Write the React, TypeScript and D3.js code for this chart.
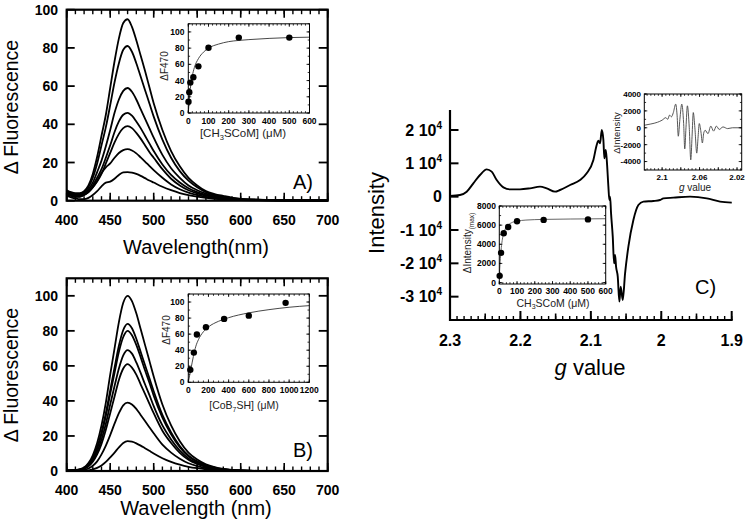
import React from "react";
import * as d3 from "d3";

// ---------------- data ----------------
const WAVELENGTHS = [400, 405, 410, 415, 420, 425, 430, 435, 440, 445, 450, 455, 460, 465, 470, 475, 480, 485, 490, 495, 500, 510, 520, 530, 540, 550, 560, 570, 580, 590, 600, 620, 650, 700];

const SPECTRA_A = [
  [5.5, 4.5, 4, 4, 5, 8, 14, 23, 34, 45, 59, 73, 85, 93, 95, 91, 84, 76, 68, 59.5, 51, 37, 26, 18, 12, 8, 5, 3.5, 2.5, 1.6, 1, 0.6, 0.3, 0.1],
  [5, 4, 3.5, 3.5, 4.5, 7, 12, 19.5, 29, 38.5, 50, 62, 72, 79, 81, 78, 72, 65, 58, 51, 44, 32, 22.5, 15.5, 10.5, 7, 4.5, 3, 2, 1.3, 0.9, 0.5, 0.3, 0.1],
  [4.5, 3.5, 3, 3, 4, 6, 9.5, 15, 21, 28.5, 37, 46, 53, 57.5, 59, 57, 53, 48, 43, 38, 33, 24, 17, 12, 8, 5.5, 3.7, 2.5, 1.7, 1.1, 0.7, 0.4, 0.2, 0.1],
  [4, 3, 2.5, 2.5, 3.5, 5, 8, 12, 16.5, 22.5, 29, 36, 41.5, 45, 46, 44.5, 41.5, 38, 34, 30, 26, 19, 13.5, 9.5, 6.5, 4.5, 3, 2, 1.4, 0.9, 0.6, 0.3, 0.2, 0.1],
  [3.5, 2.8, 2.2, 2.2, 3, 4.5, 7, 10, 14, 19.5, 25, 30.5, 35, 38, 39, 38, 35.5, 32.5, 29, 25.5, 22.5, 16.5, 11.5, 8, 5.5, 3.8, 2.6, 1.8, 1.2, 0.8, 0.5, 0.3, 0.1, 0],
  [3, 2.5, 2, 2, 3, 4.5, 7, 10.5, 14.5, 17.5, 19.5, 22.5, 25, 26.5, 27, 26.3, 24.8, 22.7, 20.5, 18.2, 16, 12, 8.5, 6, 4.2, 3, 2, 1.4, 1, 0.7, 0.5, 0.3, 0.1, 0],
  [2.5, 1.8, 1.2, 0.8, 0.8, 1.5, 3, 5, 7.5, 9.5, 10, 11.5, 13.5, 14.8, 15, 14.7, 14, 13, 11.8, 10.6, 9.5, 7.3, 5.5, 4, 2.9, 2.1, 1.5, 1, 0.7, 0.5, 0.3, 0.2, 0.1, 0],
];

const SPECTRA_B = [
  [0.3, 0.4, 0.6, 1, 2, 4.5, 9, 16, 26, 39, 55, 70, 85, 96, 100, 97, 90, 81, 72, 63, 54, 38, 26, 17, 10.5, 6.5, 3.8, 2.2, 1.2, 0.6, 0.3, 0.1, 0, 0],
  [0.3, 0.4, 0.5, 0.9, 1.7, 3.8, 7.5, 13.5, 22, 33, 46, 59, 71.5, 80.5, 84, 81.5, 75.5, 68, 60.5, 53, 45.5, 32, 22, 14.3, 8.8, 5.5, 3.2, 1.8, 1, 0.5, 0.3, 0.1, 0, 0],
  [0.3, 0.4, 0.5, 0.8, 1.6, 3.6, 7, 12.8, 21, 31.5, 44, 56, 68, 76.5, 80, 77.5, 72, 65, 57.5, 50.5, 43, 30.5, 21, 13.6, 8.4, 5.2, 3, 1.8, 1, 0.5, 0.2, 0.1, 0, 0],
  [0.2, 0.3, 0.4, 0.7, 1.4, 3, 6, 11, 18, 27, 38, 48.5, 58.5, 66, 69, 67, 62, 56, 49.5, 43.5, 37, 26, 18, 11.7, 7.2, 4.5, 2.6, 1.5, 0.8, 0.4, 0.2, 0.1, 0, 0],
  [0.2, 0.3, 0.4, 0.6, 1.2, 2.7, 5.3, 9.5, 15.5, 23.5, 33, 42.5, 52, 58.5, 61, 59, 55, 49.5, 44, 38.5, 33, 23, 16, 10.4, 6.4, 4, 2.3, 1.3, 0.7, 0.4, 0.2, 0.1, 0, 0],
  [0.1, 0.2, 0.2, 0.3, 0.6, 1.4, 3, 5.5, 9.5, 14.5, 20.5, 27, 33, 37.5, 39, 38, 35.5, 32, 28.5, 25, 21.5, 15, 10.5, 7, 4.4, 2.8, 1.7, 1, 0.6, 0.3, 0.2, 0.1, 0, 0],
  [0, 0, 0, 0.1, 0.2, 0.4, 0.9, 1.8, 3.2, 5.2, 7.8, 10.5, 13.5, 16, 17, 16.7, 15.8, 14.5, 13, 11.5, 10, 7.3, 5.2, 3.6, 2.4, 1.6, 1, 0.6, 0.3, 0.2, 0.1, 0, 0, 0],
];

const MAIN_X_TICKS = [400, 450, 500, 550, 600, 650, 700];
const MAIN_Y_TICKS = [0, 20, 40, 60, 80, 100];

const INSET_A_CONC = [1, 5, 10, 25, 50, 100, 250, 500];
const INSET_A_DF = [14, 25.5, 37.5, 44, 57.5, 80.5, 93, 93];
const FIT_A_CONC = [0, 5, 10, 20, 30, 50, 75, 100, 150, 200, 250, 300, 400, 500, 600];
const FIT_A_DF = [0, 17, 30, 46, 56, 67, 75, 80, 85, 88, 89.5, 90.5, 92, 93, 93.5];
const INSET_A_XTICKS = [0, 100, 200, 300, 400, 500, 600];

const INSET_B_CONC = [20, 55, 85, 175, 355, 600, 965];
const INSET_B_DF = [15.5, 37, 59.5, 68.5, 79, 83, 99];
const FIT_B_CONC = [0, 25, 50, 75, 100, 150, 200, 300, 400, 600, 800, 1000, 1200];
const FIT_B_DF = [0, 16, 32, 45, 53, 63, 69, 76, 80.5, 86.5, 90.5, 93.5, 95.5];
const INSET_B_XTICKS = [0, 200, 400, 600, 800, 1000, 1200];
const INSET_Y_TICKS = [0, 20, 40, 60, 80, 100];

const EPR_G = [2.3, 2.2858, 2.2763, 2.2669, 2.2574, 2.2479, 2.2408, 2.2337, 2.2242, 2.2148, 2.2006, 2.1864, 2.1722, 2.1627, 2.1509, 2.1438, 2.1295, 2.1153, 2.1059, 2.0964, 2.0917, 2.0893, 2.0869, 2.0845, 2.0822, 2.0808, 2.0789, 2.0774, 2.0751, 2.0737, 2.0727, 2.0713, 2.0689, 2.067, 2.0656, 2.0642, 2.0618, 2.0595, 2.0576, 2.0547, 2.0514, 2.0467, 2.0396, 2.0325, 2.0254, 2.0112, 2.0017, 1.997, 1.9828, 1.9591, 1.9354, 1.9165, 1.8999];
const EPR_INT = [200, 500, 1500, 4000, 6500, 8200, 7500, 5000, 2800, 2200, 2200, 2500, 3000, 2500, 1500, 2000, 3500, 5000, 7000, 11000, 15500, 16800, 16000, 20000, 17000, 11500, 14000, 11000, 3000, -1000, 0, -5000, -12000, -20000, -17500, -21000, -24000, -31500, -27000, -31000, -23000, -15000, -7000, -2500, -1500, -1300, -1000, -500, -300, 0, -500, -1500, -1800];
const C_X_TICKS = [2.3, 2.2, 2.1, 2.0, 1.9];
const C_X_LABELS = ["2.3", "2.2", "2.1", "2", "1.9"];
const C_Y_TICKS = [-30000, -20000, -10000, 0, 10000, 20000];

const DIFF_G = [2.119, 2.112, 2.105, 2.1, 2.096, 2.094, 2.092, 2.09, 2.088, 2.0855, 2.084, 2.0827, 2.081, 2.079, 2.077, 2.0758, 2.0745, 2.073, 2.071, 2.0694, 2.068, 2.0667, 2.065, 2.063, 2.0615, 2.0603, 2.0585, 2.057, 2.0555, 2.054, 2.051, 2.048, 2.045, 2.042, 2.039, 2.035, 2.03, 2.025, 2.02, 2.015];
const DIFF_INT = [300, 450, 650, 900, 1200, 1000, 1500, 1300, 1800, 2800, 1500, -1000, 1000, 2800, 500, -2500, 0, 2600, 0, -3800, -1000, 1800, 0, -3000, -1000, 500, -500, -1800, -600, -300, -700, 200, -400, 200, -200, 100, -100, 0, 0, 0];
const DIFF_X_TICKS = [2.1, 2.06, 2.02];
const DIFF_Y_TICKS = [-4000, -2000, 0, 2000, 4000];

const TITR_C_CONC = [2, 10, 25, 50, 100, 250, 500];
const TITR_C_INT = [700, 3100, 5150, 5800, 6400, 6550, 6600];
const FIT_C_CONC = [0, 5, 10, 20, 30, 50, 75, 100, 150, 250, 400, 600];
const FIT_C_INT = [600, 2200, 3400, 4800, 5450, 6000, 6300, 6420, 6530, 6600, 6640, 6670];
const TITR_C_XTICKS = [0, 100, 200, 300, 400, 500, 600];
const TITR_C_YTICKS = [0, 2000, 4000, 6000, 8000];

// ---------------- helpers ----------------
const FONT = "'Liberation Sans', Arial, Helvetica, sans-serif";
type Lin = d3.ScaleLinear<number, number>;

function tk(values: number[], scale: Lin, axis: "x" | "y", at: number, dir: number, len: number, sw: number, key: string) {
  return values.map((v, i) => {
    const p = scale(v);
    return axis === "x" ? (
      <line key={key + i} x1={p} x2={p} y1={at} y2={at + dir * len} stroke="#000" strokeWidth={sw} />
    ) : (
      <line key={key + i} y1={p} y2={p} x1={at} x2={at + dir * len} stroke="#000" strokeWidth={sw} />
    );
  });
}

function boxTicks(x: Lin, y: Lin, xMaj: number[], xMin: number[], yMaj: number[], yMin: number[], maj: number, min: number, sw: number, key: string) {
  const [L, R] = x.range();
  const [B, T] = y.range();
  return [
    ...tk(xMaj, x, "x", B, -1, maj, sw, key + "bM"),
    ...tk(xMin, x, "x", B, -1, min, sw, key + "bm"),
    ...tk(xMaj, x, "x", T, 1, maj, sw, key + "tM"),
    ...tk(xMin, x, "x", T, 1, min, sw, key + "tm"),
    ...tk(yMaj, y, "y", L, 1, maj, sw, key + "lM"),
    ...tk(yMin, y, "y", L, 1, min, sw, key + "lm"),
    ...tk(yMaj, y, "y", R, -1, maj, sw, key + "rM"),
    ...tk(yMin, y, "y", R, -1, min, sw, key + "rm"),
  ];
}

const mainX = d3.scaleLinear().domain([400, 700]).range([66.7, 327.7]);

function SpectraPanel(props: {
  y: Lin; curves: number[][]; xTitle: string; letter: string; letterY: number; yTitleY: number; xLabelY: number; xTitleY: number;
  children?: React.ReactNode;
}) {
  const { y, curves } = props;
  const [B, T] = y.range();
  const L = mainX.range()[0], R = mainX.range()[1];
  const line = d3.line<number>().x((_, i) => mainX(WAVELENGTHS[i])).y((v) => y(v)).curve(d3.curveMonotoneX);
  const minorX = d3.range(400, 700.01, 10);
  return (
    <g>
      {curves.map((c, i) => (
        <path key={i} d={line(c) || ""} fill="none" stroke="#000" strokeWidth={1.8} />
      ))}
      <rect x={L} y={T} width={R - L} height={B - T} fill="none" stroke="#000" strokeWidth={2.2} />
      {tk(MAIN_X_TICKS, mainX, "x", B, -1, 8, 1.6, "bM")}
      {tk(minorX, mainX, "x", B, -1, 4.5, 1.4, "bm")}
      {tk(MAIN_X_TICKS, mainX, "x", T, 1, 8, 1.6, "tM")}
      {tk(minorX, mainX, "x", T, 1, 4.5, 1.4, "tm")}
      {tk(MAIN_Y_TICKS, y, "y", L, 1, 8, 1.8, "lM")}
      {tk(MAIN_Y_TICKS, y, "y", R, -1, 9, 1.8, "rM")}
      {MAIN_Y_TICKS.map((v) => (
        <text key={"yl" + v} x={58} y={y(v)} dy="0.36em" textAnchor="end" fontWeight="bold" fontSize={14}>{v}</text>
      ))}
      {MAIN_X_TICKS.map((v) => (
        <text key={"xl" + v} x={mainX(v)} y={props.xLabelY} dy="0.36em" textAnchor="middle" fontWeight="bold" fontSize={14}>{v}</text>
      ))}
      <text x={196} y={props.xTitleY} textAnchor="middle" fontSize={20}>{props.xTitle}</text>
      <text transform={`translate(18,${props.yTitleY}) rotate(-90)`} textAnchor="middle" fontSize={19.5}>Δ Fluorescence</text>
      <text x={293} y={props.letterY} fontSize={20}>{props.letter}</text>
      {props.children}
    </g>
  );
}

function TitrationInset(props: {
  x: Lin; y: Lin; px: number[]; py: number[]; fx: number[]; fy: number[]; xTicks: number[]; xMinor: number[];
  yTicks: number[]; yMinor: number[]; xLabelY: number; yLabelX: number; yTitle: React.ReactNode; yTitleX: number; yTitleY: number;
  xTitle: React.ReactNode; xTitleX: number; xTitleY: number; fitColor: string; fs?: number; titleFs?: number;
}) {
  const { x, y } = props;
  const [L, R] = x.range();
  const [B, T] = y.range();
  const line = d3.line<number>().x((_, i) => x(props.fx[i])).y((v) => y(v)).curve(d3.curveMonotoneX);
  const fs = props.fs || 8.5;
  return (
    <g>
      <path d={line(props.fy) || ""} fill="none" stroke={props.fitColor} strokeWidth={0.9} />
      {props.px.map((v, i) => (
        <circle key={i} cx={x(v)} cy={y(props.py[i])} r={3.2} fill="#000" />
      ))}
      <rect x={L} y={T} width={R - L} height={B - T} fill="none" stroke="#000" strokeWidth={1} />
      {boxTicks(x, y, props.xTicks, props.xMinor, props.yTicks, props.yMinor, 3, 1.8, 0.8, "in")}
      {props.xTicks.map((v) => (
        <text key={"x" + v} x={x(v)} y={props.xLabelY} dy="0.36em" textAnchor="middle" fontWeight="bold" fontSize={fs}>{v}</text>
      ))}
      {props.yTicks.map((v) => (
        <text key={"y" + v} x={props.yLabelX} y={y(v)} dy="0.36em" textAnchor="end" fontWeight="bold" fontSize={fs}>{v}</text>
      ))}
      <text transform={`translate(${props.yTitleX},${props.yTitleY}) rotate(-90)`} textAnchor="middle" fontSize={10} fill="#222">{props.yTitle}</text>
      <text x={props.xTitleX} y={props.xTitleY} textAnchor="middle" fontSize={props.titleFs || 10.5} fill="#222">{props.xTitle}</text>
    </g>
  );
}

export default function App() {
  const yA = d3.scaleLinear().domain([0, 100]).range([200.7, 9.7]);
  const yB = d3.scaleLinear().domain([0, 110]).range([471, 278.3]);

  const xIA = d3.scaleLinear().domain([0, 600]).range([188.3, 309.5]);
  const yIA = d3.scaleLinear().domain([0, 110]).range([113, 23.8]);
  const xIB = d3.scaleLinear().domain([0, 1200]).range([188.3, 309.3]);
  const yIB = d3.scaleLinear().domain([0, 110]).range([382.3, 294]);

  // Panel C
  const xC = d3.scaleLinear().domain([2.3, 1.9]).range([450, 731.7]);
  const yC = d3.scaleLinear().domain([-37000, 26000]).range([320, 110]);
  const eprLine = d3.line<number>().x((_, i) => xC(EPR_G[i])).y((v) => yC(v)).curve(d3.curveMonotoneX);

  const xCL = d3.scaleLinear().domain([0, 600]).range([499.3, 605.7]);
  const yCL = d3.scaleLinear().domain([-150, 8000]).range([284, 206]);

  const xCU = d3.scaleLinear().domain([2.119, 2.015]).range([644.3, 741.7]);
  const yCU = d3.scaleLinear().domain([-5000, 4000]).range([170, 94]);
  const diffLine = d3.line<number>().x((_, i) => xCU(DIFF_G[i])).y((v) => yCU(v)).curve(d3.curveMonotoneX);
  const [cuL, cuR] = xCU.range();
  const [cuB, cuT] = yCU.range();

  const cMinor = d3.range(1.9, 2.3001, 0.01);
  const cMid = [2.25, 2.15, 2.05, 1.95];

  return (
    <svg width={745} height={527} style={{ position: "absolute", left: 0, top: 0, background: "#fff" }} fontFamily={FONT}>
      <rect x={0} y={0} width={745} height={527} fill="#fff" />
      {/* Panel A */}
      <SpectraPanel y={yA} curves={SPECTRA_A} xTitle="Wavelength(nm)" letter="A)" letterY={189} yTitleY={107} xLabelY={220} xTitleY={254}>
        <TitrationInset
          x={xIA} y={yIA} px={INSET_A_CONC} py={INSET_A_DF} fx={FIT_A_CONC} fy={FIT_A_DF}
          xTicks={INSET_A_XTICKS} xMinor={d3.range(0, 600.1, 20)} yTicks={INSET_Y_TICKS} yMinor={d3.range(0, 110.1, 10)}
          xLabelY={121} yLabelX={184.5} yTitle="ΔF470" yTitleX={168} yTitleY={66}
          xTitle={<>[CH<tspan dy={2.5} fontSize={7.5}>3</tspan><tspan dy={-2.5}>SCoM] (μM)</tspan></>}
          xTitleX={243} xTitleY={137} fitColor="#333" titleFs={11.5}
        />
      </SpectraPanel>
      {/* Panel B */}
      <SpectraPanel y={yB} curves={SPECTRA_B} xTitle="Wavelength (nm)" letter="B)" letterY={457} yTitleY={375} xLabelY={490} xTitleY={515}>
        <TitrationInset
          x={xIB} y={yIB} px={INSET_B_CONC} py={INSET_B_DF} fx={FIT_B_CONC} fy={FIT_B_DF}
          xTicks={INSET_B_XTICKS} xMinor={d3.range(0, 1200.1, 50)} yTicks={INSET_Y_TICKS} yMinor={d3.range(0, 110.1, 10)}
          xLabelY={390} yLabelX={184.5} yTitle="ΔF470" yTitleX={170} yTitleY={330}
          xTitle={<>[CoB<tspan dy={2.5} fontSize={7}>7</tspan><tspan dy={-2.5}>SH] (μM)</tspan></>}
          xTitleX={244} xTitleY={409} fitColor="#333"
        />
      </SpectraPanel>

      {/* Panel C main */}
      <path d={eprLine(EPR_INT) || ""} fill="none" stroke="#000" strokeWidth={1.9} />
      <line x1={450} x2={450} y1={110} y2={321} stroke="#000" strokeWidth={2.2} />
      <line x1={449} x2={732.7} y1={320} y2={320} stroke="#000" strokeWidth={2.2} />
      {tk(C_X_TICKS, xC, "x", 320, -1, 9, 2, "cxM")}
      {tk(cMid, xC, "x", 320, -1, 6.5, 1.6, "cxm5")}
      {tk(cMinor, xC, "x", 320, -1, 4, 1.4, "cxm")}
      {tk(C_Y_TICKS, yC, "y", 450, 1, 8.5, 2, "cyM")}
      {C_X_TICKS.map((v, i) => (
        <text key={"cx" + i} x={xC(v)} y={340} dy="0.36em" textAnchor="middle" fontWeight="bold" fontSize={16}>{C_X_LABELS[i]}</text>
      ))}
      {C_Y_TICKS.map((v) => (
        <text key={"cy" + v} x={442} y={yC(v)} dy="0.36em" textAnchor="end" fontWeight="bold" fontSize={16}>
          {v === 0 ? "0" : (<><tspan>{`${v / 10000} 10`}</tspan><tspan dy={-7} fontSize={10}>4</tspan></>)}
        </text>
      ))}
      <text transform="translate(384,213) rotate(-90)" textAnchor="middle" fontSize={22}>Intensity</text>
      <text x={590} y={375} textAnchor="middle" fontSize={22}><tspan fontStyle="italic">g</tspan> value</text>
      <text x={695} y={294} fontSize={20}>C)</text>

      {/* Panel C lower inset */}
      <TitrationInset
        x={xCL} y={yCL} px={TITR_C_CONC} py={TITR_C_INT} fx={FIT_C_CONC} fy={FIT_C_INT}
        xTicks={TITR_C_XTICKS} xMinor={d3.range(0, 600.1, 20)} yTicks={TITR_C_YTICKS} yMinor={d3.range(0, 8000.1, 1000)}
        xLabelY={291} yLabelX={496} yTitle={<>ΔIntensity<tspan dy={2.5} fontSize={6.5}>(max)</tspan></>} yTitleX={471} yTitleY={243}
        xTitle={<>CH<tspan dy={2.5} fontSize={7}>3</tspan><tspan dy={-2.5}>SCoM (μM)</tspan></>}
        xTitleX={553} xTitleY={306.5} fitColor="#555" fs={8.5}
      />

      {/* Panel C upper inset */}
      <path d={diffLine(DIFF_INT) || ""} fill="none" stroke="#444" strokeWidth={0.9} />
      <rect x={cuL} y={cuT} width={cuR - cuL} height={cuB - cuT} fill="none" stroke="#000" strokeWidth={1} />
      {boxTicks(xCU, yCU, [2.1, 2.08, 2.06, 2.04, 2.02], d3.range(2.016, 2.1191, 0.004), DIFF_Y_TICKS, d3.range(-5000, 4000.1, 1000), 3, 1.8, 0.8, "cu")}
      {DIFF_X_TICKS.map((v) => (
        <text key={"dx" + v} x={xCU(v)} y={177} dy="0.36em" textAnchor="middle" fontWeight="bold" fontSize={8}>{String(v)}</text>
      ))}
      {DIFF_Y_TICKS.map((v) => (
        <text key={"dy" + v} x={641} y={yCU(v)} dy="0.36em" textAnchor="end" fontWeight="bold" fontSize={8}>{v}</text>
      ))}
      <text transform="translate(620,133) rotate(-90)" textAnchor="middle" fontSize={9.5} fill="#222">ΔIntensity</text>
      <text x={695} y={190.5} textAnchor="middle" fontSize={10} fill="#222"><tspan fontStyle="italic">g</tspan> value</text>
    </svg>
  );
}
